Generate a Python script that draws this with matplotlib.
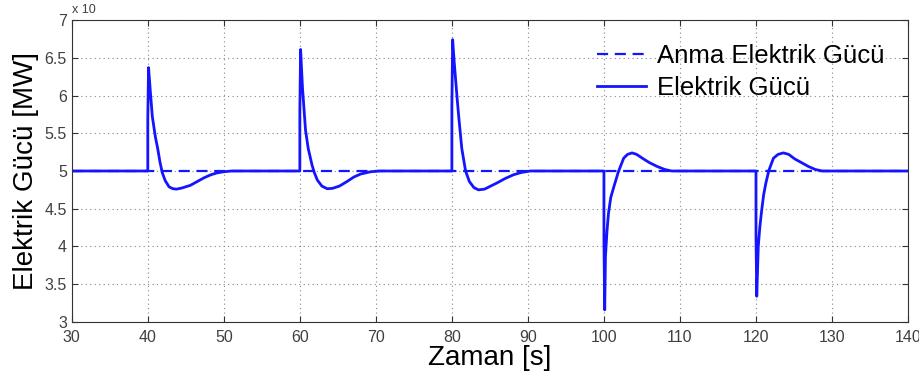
import numpy as np
from matplotlib import pyplot as plt

# (power axis as shown, scale x 10^...)
t_nominal = [30, 140]
p_nominal = [5.0, 5.0]

t_power = [30, 40, 40, 40.1, 40.3, 40.6, 41.0, 41.3, 41.6, 41.9, 42.3, 42.8, 43.3, 43.8,
           44.5, 45.6, 46.5, 47.4, 48.3, 49.1, 50, 51,
           60, 60, 60.1, 60.35, 60.75, 61.1, 61.6, 61.9, 62.3, 62.9, 63.6, 64.3, 65.2,
           66.2, 67.1, 68, 69.3, 70.5,
           80, 80, 80.1, 80.3, 80.46, 80.7, 80.9, 81.3, 81.8, 82.3, 82.9, 83.5, 84.3,
           85.1, 85.9, 87, 88.1, 89.1, 90.3,
           100, 100, 100.1, 100.2, 100.4, 100.6, 100.9, 101.3, 101.9, 102.6, 103.1, 103.7,
           104.3, 105.2, 106, 107, 108, 108.9, 109.9,
           120, 120, 120.1, 120.3, 120.5, 120.75, 121.0, 121.3, 121.7, 122.3, 122.9, 123.6,
           124.3, 125.1, 126, 126.9, 127.8, 128.7, 129.9,
           140]
p_power = [5.0, 5.0, 5.68, 6.37, 6.1, 5.72, 5.45, 5.3, 5.12, 4.98, 4.87, 4.79, 4.765, 4.76,
           4.775, 4.81, 4.86, 4.91, 4.95, 4.975, 4.99, 5.0,
           5.0, 5.79, 6.61, 6.1, 5.54, 5.3, 5.08, 4.98, 4.88, 4.8, 4.765, 4.77, 4.8,
           4.86, 4.92, 4.96, 4.99, 5.0,
           5.0, 5.87, 6.74, 6.45, 6.25, 5.95, 5.72, 5.3, 5.0, 4.86, 4.78, 4.75, 4.76,
           4.8, 4.84, 4.9, 4.95, 4.98, 5.0,
           5.0, 4.09, 3.16, 3.87, 4.2, 4.44, 4.65, 4.79, 4.99, 5.17, 5.22, 5.24,
           5.22, 5.16, 5.11, 5.06, 5.02, 5.0, 5.0,
           5.0, 4.15, 3.34, 4.0, 4.25, 4.48, 4.68, 4.84, 5.01, 5.17, 5.22, 5.24,
           5.22, 5.16, 5.11, 5.06, 5.02, 5.0, 5.0,
           5.0]

xticks = [30, 40, 50, 60, 70, 80, 90, 100, 110, 120, 130, 140]
yticks = [3, 3.5, 4, 4.5, 5, 5.5, 6, 6.5, 7]
ytick_labels = ["3", "3.5", "4", "4.5", "5", "5.5", "6", "6.5", "7"]

plt.rcParams['font.family'] = ['Liberation Sans', 'DejaVu Sans']

fig = plt.figure(figsize=(9.2, 3.86), dpi=100)
ax = fig.add_axes([0.078, 0.166, 0.909, 0.782])

blue = '#1414ff'
ax.plot(t_nominal, p_nominal, color=blue, lw=1.6, ls=(0, (5, 3)), label='Anma Elektrik Gücü')
ax.plot(t_power, p_power, color=blue, lw=2.0, label='Elektrik Gücü')

ax.set_xlim(30, 140)
ax.set_ylim(3, 7)
ax.set_xticks(xticks)
ax.set_yticks(yticks)
ax.set_yticklabels(ytick_labels)
ax.tick_params(direction='in', length=4, top=True, right=True, labelsize=11.5,
               labelcolor='#404040', color='#333333')
ax.tick_params(axis='x', pad=6)
ax.grid(True, ls=(0, (1, 3)), color='#888888', lw=0.8)
for s in ax.spines.values():
    s.set_color('#333333')

ax.set_xlabel("Zaman [s]", fontsize=20, labelpad=0)
ax.set_ylabel("Elektrik Gücü [MW]", fontsize=20, labelpad=4)
ax.text(0.0, 1.015, "x 10", transform=ax.transAxes, fontsize=9, color='#404040',
        ha='left', va='bottom')

ax.legend(loc='upper right', frameon=False, fontsize=18.5, handlelength=1.9,
          handletextpad=0.45, labelspacing=0.3, borderaxespad=0.5,
          bbox_to_anchor=(1.0, 0.998))

plt.savefig("out.png", dpi=100)
